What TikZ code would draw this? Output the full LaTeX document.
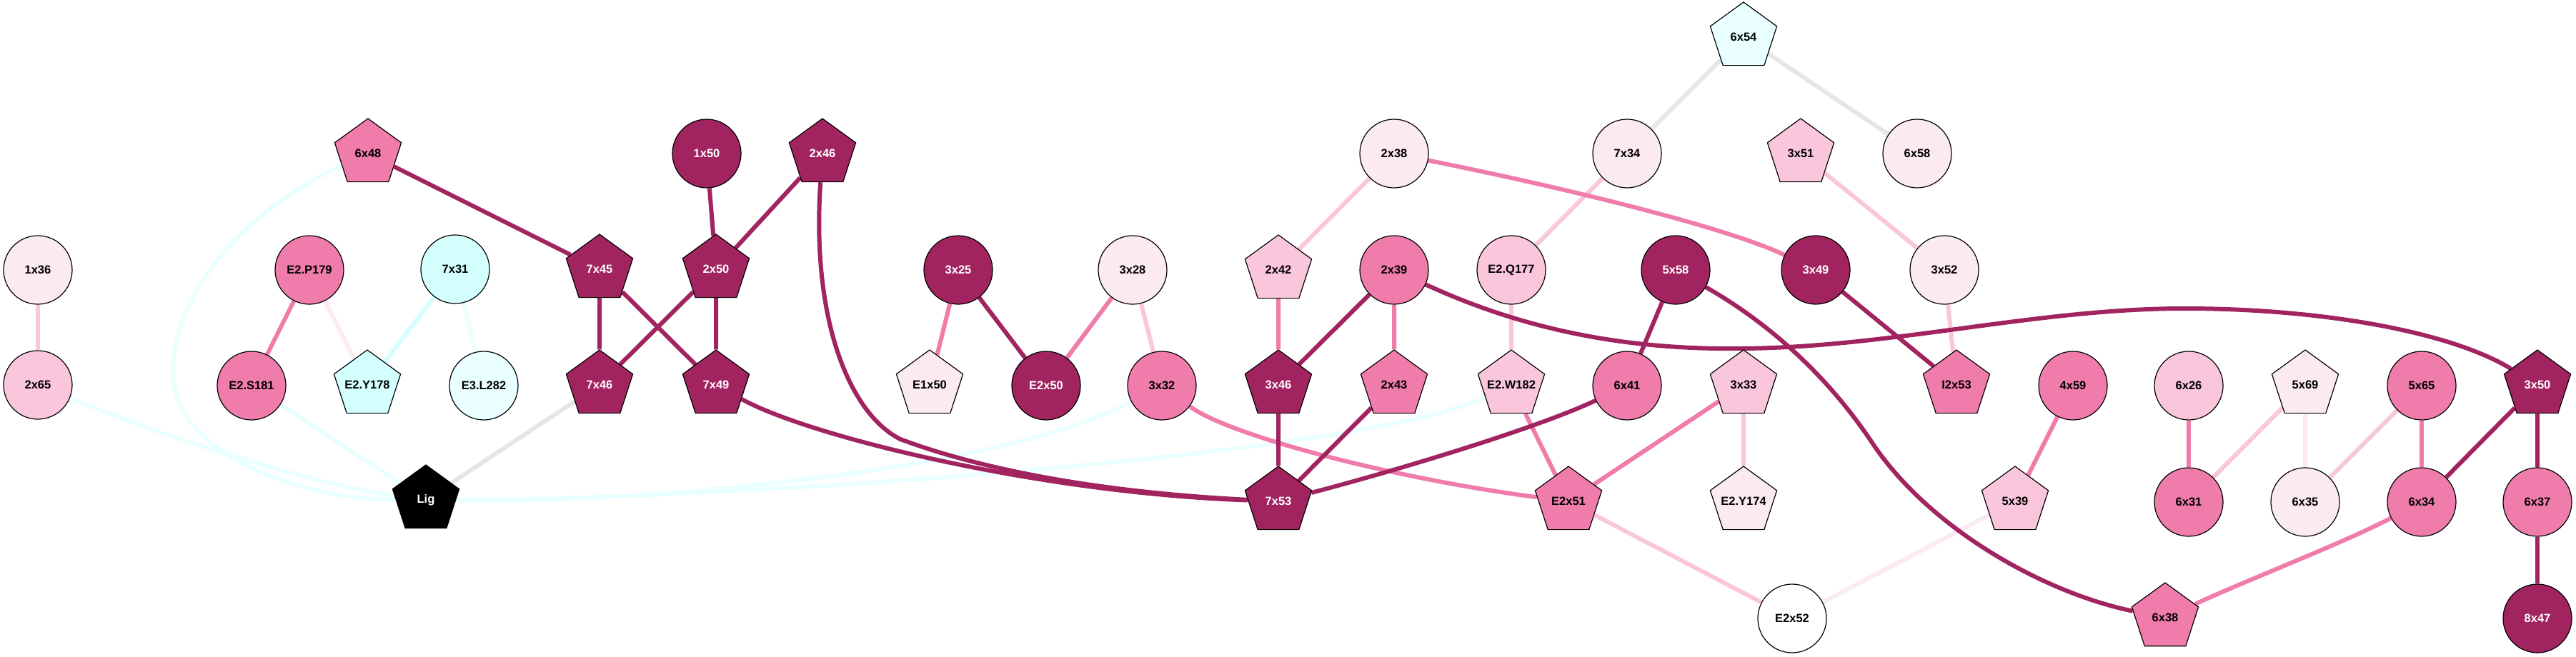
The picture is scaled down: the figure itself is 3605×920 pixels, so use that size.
\documentclass[tikz,border=0pt]{standalone}
\usepackage{fontspec}
\setmainfont{Liberation Sans}
\usetikzlibrary{shapes.geometric,backgrounds}
\definecolor{cdk}{HTML}{A12460}
\definecolor{cmd}{HTML}{F07CAB}
\definecolor{clp}{HTML}{F9C6DC}
\definecolor{cvl}{HTML}{FCEAF2}
\definecolor{ccy}{HTML}{D4FFFF}
\definecolor{cvc}{HTML}{EAFFFF}
\definecolor{cgr}{HTML}{E6E6E6}
\begin{document}
\begin{tikzpicture}[x=1pt,y=-1pt,
  nd/.style={draw=black, line width=1.2pt, inner sep=0pt, font=\bfseries\fontsize{16.5}{18}\selectfont},
  circ/.style={nd, circle, minimum size=96pt},
  pent/.style={nd, regular polygon, regular polygon sides=5, minimum size=98pt, inner sep=-25pt},
  fdk/.style={fill=cdk, text=white},
  fmd/.style={fill=cmd},
  flp/.style={fill=clp},
  fvl/.style={fill=cvl},
  fcy/.style={fill=ccy},
  fvc/.style={fill=cvc},
  fwh/.style={fill=white},
  fbk/.style={fill=black, text=white},
  ed/.style={line width=6pt},
  edk/.style={ed, draw=cdk},
  emd/.style={ed, draw=cmd},
  elp/.style={ed, draw=clp},
  evl/.style={ed, draw=cvl},
  ecy/.style={ed, draw=ccy},
  evc/.style={ed, draw=cvc},
  egr/.style={ed, draw=cgr}]
\useasboundingbox (0,0) rectangle (3605,920);
% nodes
\node[circ,fvl] (1x36) at (53,378) {1x36};
\node[circ,flp] (2x65) at (53,539) {2x65};
\node[pent,fmd] (6x48) at (515,215) {6x48};
\node[circ,fmd] (E2P179) at (433,378) {E2.P179};
\node[circ,fmd] (E2S181) at (352,540) {E2.S181};
\node[circ,fcy] (7x31) at (637,377) {7x31};
\node[pent,fcy] (E2Y178) at (514,539) {E2.Y178};
\node[circ,fvc] (E3L282) at (677,540) {E3.L282};
\node[pent,fbk] (Lig) at (596,700) {Lig};
\node[pent,fdk] (7x45) at (839,377) {7x45};
\node[pent,fdk] (2x50) at (1002,377) {2x50};
\node[pent,fdk] (7x46) at (839,539) {7x46};
\node[pent,fdk] (7x49) at (1002,539) {7x49};
\node[circ,fdk] (1x50) at (989,215) {1x50};
\node[pent,fdk] (2x46) at (1151,215) {2x46};
\node[circ,fdk] (3x25) at (1341,378) {3x25};
\node[circ,fvl] (3x28) at (1585,378) {3x28};
\node[pent,fvl] (E1x50) at (1301,539) {E1x50};
\node[circ,fdk] (E2x50) at (1464,540) {E2x50};
\node[circ,fmd] (3x32) at (1626,540) {3x32};
\node[circ,fvl] (2x38) at (1951,215) {2x38};
\node[pent,flp] (2x42) at (1789,378) {2x42};
\node[circ,fmd] (2x39) at (1951,378) {2x39};
\node[pent,fdk] (3x46) at (1789,539) {3x46};
\node[pent,fmd] (2x43) at (1951,539) {2x43};
\node[pent,fdk] (7x53) at (1789,702) {7x53};
\node[pent,fvc] (6x54) at (2440,52) {6x54};
\node[circ,fvl] (7x34) at (2277,215) {7x34};
\node[pent,flp] (3x51) at (2520,215) {3x51};
\node[circ,fvl] (6x58) at (2683,215) {6x58};
\node[circ,flp] (E2Q177) at (2115,378) {E2.Q177};
\node[circ,fdk] (5x58) at (2345,378) {5x58};
\node[circ,fdk] (3x49) at (2541,378) {3x49};
\node[circ,fvl] (3x52) at (2721,378) {3x52};
\node[pent,flp] (E2W182) at (2115,539) {E2.W182};
\node[circ,fmd] (6x41) at (2277,540) {6x41};
\node[pent,flp] (3x33) at (2440,539) {3x33};
\node[pent,fmd] (I2x53) at (2738,539) {I2x53};
\node[pent,fmd] (E2x51) at (2195,702) {E2x51};
\node[pent,fvl] (E2Y174) at (2440,702) {E2.Y174};
\node[circ,fwh] (E2x52) at (2508,866) {E2x52};
\node[circ,fmd] (4x59) at (2901,540) {4x59};
\node[circ,flp] (6x26) at (3063,540) {6x26};
\node[pent,fvl] (5x69) at (3226,539) {5x69};
\node[circ,fmd] (5x65) at (3389,540) {5x65};
\node[pent,fdk] (3x50) at (3551,539) {3x50};
\node[pent,flp] (5x39) at (2820,702) {5x39};
\node[circ,fmd] (6x31) at (3063,703) {6x31};
\node[circ,fvl] (6x35) at (3226,703) {6x35};
\node[circ,fmd] (6x34) at (3389,703) {6x34};
\node[circ,fmd] (6x37) at (3551,703) {6x37};
\node[pent,fmd] (6x38) at (3030,865) {6x38};
\node[circ,fdk] (8x47) at (3551,866) {8x47};
% edges
\begin{pgfonlayer}{background}
\fill[white] (0,0) rectangle (3605,920);
% very light cyan / cyan / grey
\draw[evc] (2x65) .. controls (250,620) and (450,680) .. (Lig);
\draw[evc] (6x48) .. controls (330,300) and (242,420) .. (242,520) .. controls (242,640) and (430,700) .. (Lig);
\draw[evc] (E2S181) -- (Lig);
\draw[evc] (Lig) .. controls (900,705) and (1400,660) .. (3x32);
\draw[evc] (Lig) .. controls (1000,700) and (1900,640) .. (E2W182);
\draw[evc] (7x31) -- (E3L282);
\draw[ecy] (7x31) -- (E2Y178);
\draw[egr] (7x46) -- (Lig);
\draw[egr] (6x54) -- (7x34);
\draw[egr] (6x54) -- (6x58);
% very light pink
\draw[evl] (E2P179) -- (E2Y178);
\draw[evl] (5x39) -- (E2x52);
\draw[evl] (5x69) -- (6x35);
% light pink
\draw[elp] (1x36) -- (2x65);
\draw[elp] (3x28) -- (3x32);
\draw[elp] (2x38) -- (2x42);
\draw[elp] (7x34) -- (E2Q177);
\draw[elp] (3x51) -- (3x52);
\draw[elp] (E2Q177) -- (E2W182);
\draw[elp] (3x52) -- (I2x53);
\draw[elp] (3x33) -- (E2Y174);
\draw[elp] (E2x51) -- (E2x52);
\draw[elp] (5x69) -- (6x31);
\draw[elp] (5x65) -- (6x35);
% medium pink
\draw[emd] (E2P179) -- (E2S181);
\draw[emd] (3x25) -- (E1x50);
\draw[emd] (3x28) -- (E2x50);
\draw[emd] (3x32) .. controls (1720,610) and (1950,670) .. (E2x51);
\draw[emd] (2x42) -- (3x46);
\draw[emd] (2x39) -- (2x43);
\draw[emd] (2x38) .. controls (2200,265) and (2420,320) .. (3x49);
\draw[emd] (E2W182) -- (E2x51);
\draw[emd] (3x33) -- (E2x51);
\draw[emd] (4x59) -- (5x39);
\draw[emd] (6x26) -- (6x31);
\draw[emd] (5x65) -- (6x34);
\draw[emd] (6x34) .. controls (3280,760) and (3150,810) .. (6x38);
% dark
\draw[edk] (6x48) -- (7x45);
\draw[edk] (7x45) -- (7x46);
\draw[edk] (7x45) -- (7x49);
\draw[edk] (2x50) -- (7x46);
\draw[edk] (2x50) -- (7x49);
\draw[edk] (1x50) -- (2x50);
\draw[edk] (2x46) -- (2x50);
\draw[edk] (2x46) .. controls (1135,450) and (1190,580) .. (1260,615) .. controls (1380,660) and (1550,690) .. (7x53);
\draw[edk] (7x49) .. controls (1130,610) and (1450,690) .. (7x53);
\draw[edk] (3x25) -- (E2x50);
\draw[edk] (2x39) -- (3x46);
\draw[edk] (3x46) -- (7x53);
\draw[edk] (2x43) -- (7x53);
\draw[edk] (6x41) .. controls (2150,600) and (1950,660) .. (7x53);
\draw[edk] (2x39) .. controls (2150,470) and (2300,490) .. (2440,488) .. controls (2650,486) and (2850,432) .. (3057,432) .. controls (3250,432) and (3430,465) .. (3x50);
\draw[edk] (5x58) -- (6x41);
\draw[edk] (5x58) .. controls (2480,455) and (2560,530) .. (2620,620) .. controls (2700,740) and (2860,830) .. (6x38);
\draw[edk] (3x49) -- (I2x53);
\draw[edk] (3x50) -- (6x34);
\draw[edk] (3x50) -- (6x37);
\draw[edk] (6x37) -- (8x47);
\end{pgfonlayer}
\end{tikzpicture}
\end{document}
